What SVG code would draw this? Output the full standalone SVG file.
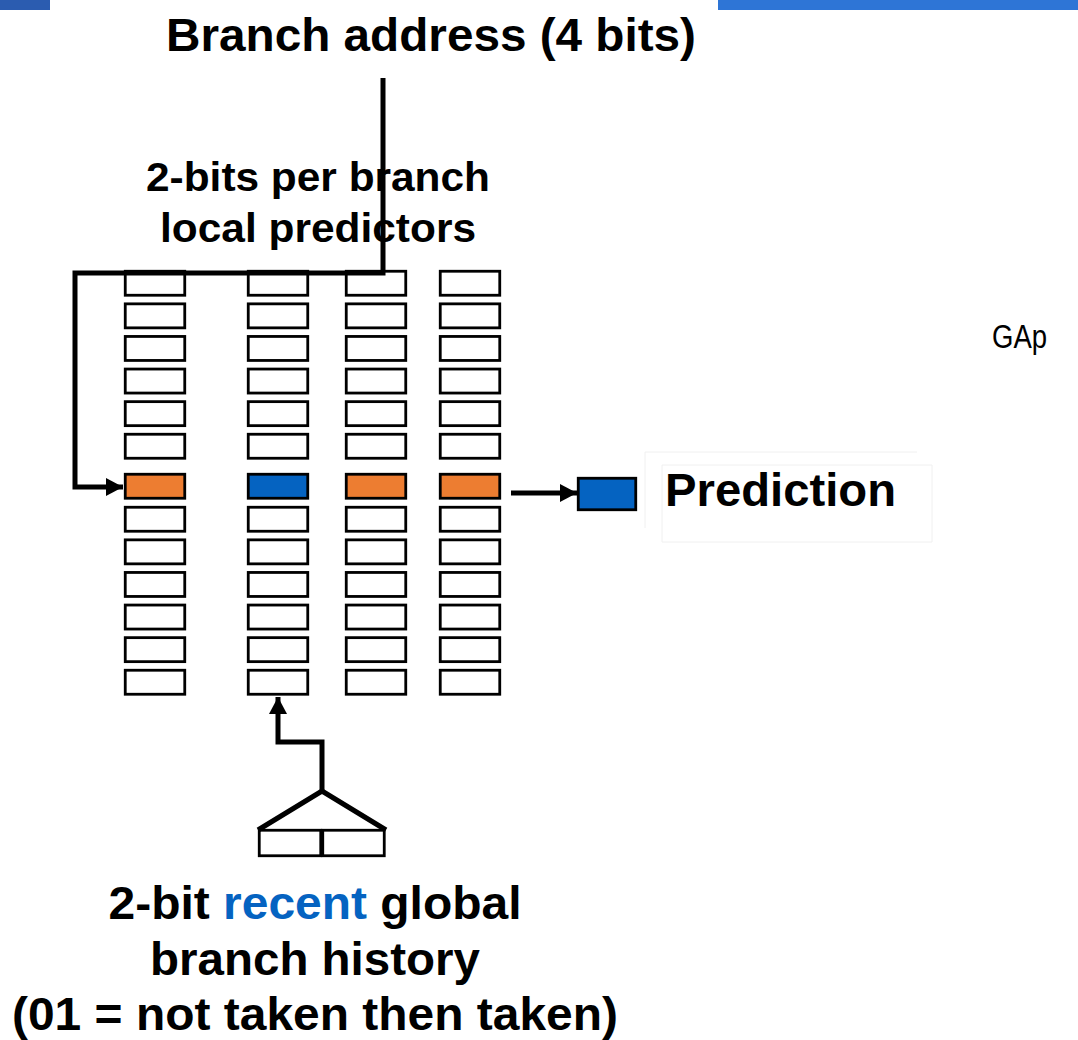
<svg xmlns="http://www.w3.org/2000/svg" width="1078" height="1040" viewBox="0 0 1078 1040">
<defs>
<style>
.t{font-family:"Liberation Sans",Arial,sans-serif;font-weight:bold;fill:#000}
.cell{fill:#fff;stroke:#000;stroke-width:2.8}
.or{fill:#ed7d31}
.bl{fill:#0563c1}
.wire{fill:none;stroke:#000;stroke-width:5;stroke-linejoin:miter}
.faint{fill:none;stroke:#f0f0f0;stroke-width:1}
</style>
<marker id="ah" markerUnits="userSpaceOnUse" markerWidth="17" markerHeight="18" refX="17" refY="9" orient="auto"><path d="M0,0 L17,9 L0,18 z" fill="#000"/></marker>
<g id="colcells">
<rect class="cell" x="0" y="1.25" width="59.5" height="24"/>
<rect class="cell" x="0" y="33.85" width="59.5" height="24"/>
<rect class="cell" x="0" y="66.45" width="59.5" height="24"/>
<rect class="cell" x="0" y="99.05" width="59.5" height="24"/>
<rect class="cell" x="0" y="131.65" width="59.5" height="24"/>
<rect class="cell" x="0" y="164.25" width="59.5" height="24"/>
<rect class="cell" x="0" y="237.25" width="59.5" height="24"/>
<rect class="cell" x="0" y="269.85" width="59.5" height="24"/>
<rect class="cell" x="0" y="302.45" width="59.5" height="24"/>
<rect class="cell" x="0" y="335.05" width="59.5" height="24"/>
<rect class="cell" x="0" y="367.65" width="59.5" height="24"/>
<rect class="cell" x="0" y="400.25" width="59.5" height="24"/>
</g>
</defs>
<rect x="0" y="0" width="50" height="10" fill="#2b5cb0"/>
<rect x="718" y="0" width="360" height="10" fill="#2e75d6"/>

<g id="title"><text class="t" x="166" y="51" font-size="47" textLength="530" lengthAdjust="spacingAndGlyphs">Branch address (4 bits)</text></g>
<g id="local-label">
<text class="t" x="146" y="191" font-size="41" textLength="344" lengthAdjust="spacingAndGlyphs">2-bits per branch</text>
<text class="t" x="160" y="242" font-size="41" textLength="316" lengthAdjust="spacingAndGlyphs">local predictors</text>
</g>

<g id="col1" transform="translate(125.25,270)"><use href="#colcells"/><rect class="cell or" x="0" y="204.25" width="59.5" height="24"/></g>
<g id="col2" transform="translate(248.25,270)"><use href="#colcells"/><rect class="cell bl" x="0" y="204.25" width="59.5" height="24"/></g>
<g id="col3" transform="translate(346.25,270)"><use href="#colcells"/><rect class="cell or" x="0" y="204.25" width="59.5" height="24"/></g>
<g id="col4" transform="translate(440.25,270)"><use href="#colcells"/><rect class="cell or" x="0" y="204.25" width="59.5" height="24"/></g>

<g id="prediction">
<rect class="cell bl" x="578.25" y="478.25" width="57.5" height="31.5"/>
<path class="faint" d="M645,528 V452 H917 M662,465 H932 V542 H662 Z"/>
<text class="t" x="665" y="506" font-size="47" textLength="231" lengthAdjust="spacingAndGlyphs">Prediction</text>
</g>

<g id="gap"><text x="992" y="348" font-family="'Liberation Sans',Arial,sans-serif" font-size="33" textLength="55" lengthAdjust="spacingAndGlyphs" fill="#000">GAp</text></g>

<g id="history">
<rect class="cell" x="259.25" y="830.25" width="61.5" height="25.5"/>
<rect class="cell" x="322.75" y="830.25" width="61.5" height="25.5"/>
<text class="t" x="315" y="919" font-size="47" text-anchor="middle" textLength="413" lengthAdjust="spacingAndGlyphs">2-bit <tspan fill="#0563c1">recent</tspan> global</text>
<text class="t" x="315" y="975" font-size="47" text-anchor="middle" textLength="330" lengthAdjust="spacingAndGlyphs">branch history</text>
<text class="t" x="315" y="1030" font-size="47" text-anchor="middle" textLength="606" lengthAdjust="spacingAndGlyphs">(01 = not taken then taken)</text>
</g>

<g id="connectors">
<path class="wire" d="M383,78 V273 H75 V487 H123" marker-end="url(#ah)"/>
<path class="wire" d="M511,493 H577" marker-end="url(#ah)"/>
<path class="wire" d="M322,791 V742 H278 V697" marker-end="url(#ah)"/>
<polyline class="wire" stroke-width="5.5" points="258,830 322,791 386,830"/>
</g>
</svg>
